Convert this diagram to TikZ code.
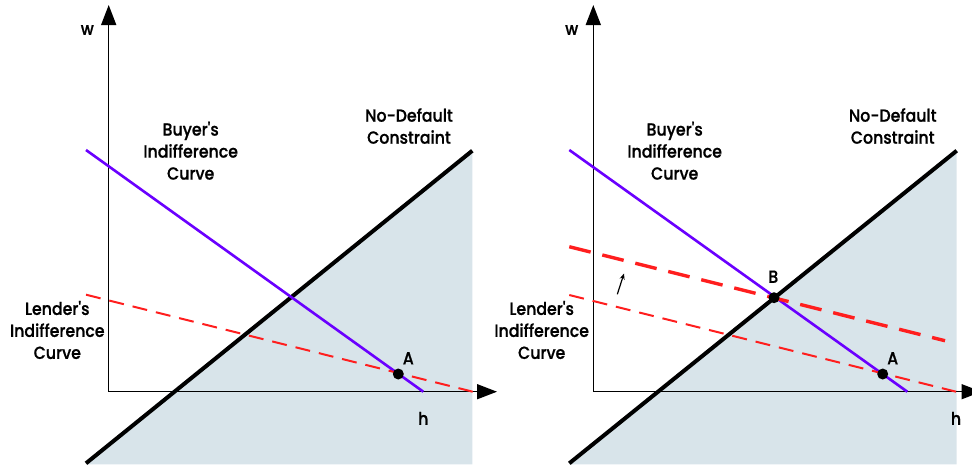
\documentclass[tikz,border=0pt]{standalone}
\usepackage{fontspec}
\newfontfamily\labelfont{Poppins}[UprightFont=* Medium, FakeStretch=0.9, UprightFeatures={FakeBold=0.8}]
\usetikzlibrary{arrows.meta}
\definecolor{shadeblue}{HTML}{D8E4EA}
\definecolor{buyerpurple}{HTML}{6A00FF}
\definecolor{lenderred}{HTML}{FF1E1E}
\tikzset{
  axis/.style={line width=1.5pt, -{Triangle[length=20pt,width=15pt]}},
  constraint/.style={line width=4pt, black},
  buyer/.style={line width=2.6pt, buyerpurple},
  lender/.style={line width=2pt, lenderred, dash pattern=on 15pt off 9pt},
  lenderthick/.style={line width=3.4pt, lenderred, dash pattern=on 22pt off 12pt},
  dot/.style={circle, fill=black, inner sep=0pt, minimum size=11pt},
  lbl/.style={font=\labelfont\fontsize{17.5}{22}\selectfont, align=center, inner sep=0pt},
  region/.style={fill=shadeblue}
}
\begin{document}
\begin{tikzpicture}[x=1pt,y=-1pt]
\useasboundingbox (0,0) rectangle (972,467);
\clip (0,0) rectangle (972,467);
% ---------- left panel ----------
\begin{scope}
  \coordinate (LO) at (108.7,391.7);
  \coordinate (LY) at (108.7,5);
  \coordinate (LX) at (497,391.7);
  \fill[region] (86,464.3) -- (472.3,150.7) -- (472.3,464.3) -- cycle;
  \draw[axis] (LO) -- (LY);
  \draw[axis] (LO) -- (LX);
  \coordinate (LC1) at (86,463.3);
  \coordinate (LC2) at (472.3,150.7);
  \draw[constraint] (LC1) -- (LC2);
  \coordinate (LB1) at (86,150);
  \coordinate (LB2) at (423.3,391.7);
  \draw[buyer] (LB1) -- (LB2);
  \coordinate (LL1) at (86,294.7);
  \coordinate (LL2) at (472.7,391.7);
  \draw[lender] (LL1) -- (LL2);
  \node[dot] (LA) at (398.3,374) {};
  \node[lbl] (LAl) at (408.3,358.3) {A};
  \node[lbl] (Lw) at (87.3,30) {w};
  \node[lbl] (Lh) at (423.3,418.3) {h};
  \node[lbl] (Lbuyer) at (190.7,150.7) {Buyer's\\Indifference\\Curve};
  \node[lbl] (Lnd) at (409,126) {No-Default\\Constraint};
  \node[lbl] (Llender) at (57.3,330) {Lender's\\Indifference\\Curve};
\end{scope}
% ---------- right panel ----------
\begin{scope}[xshift=484.5pt]
  \coordinate (RO) at (108.8,391.7);
  \coordinate (RY) at (108.8,5);
  \coordinate (RX) at (497,391.7);
  \fill[region] (84.8,464.3) -- (472.2,150.7) -- (472.2,464.3) -- cycle;
  \draw[axis] (RO) -- (RY);
  \draw[axis] (RO) -- (RX);
  \coordinate (RC1) at (84.8,463.3);
  \coordinate (RC2) at (472.2,150.7);
  \draw[constraint] (RC1) -- (RC2);
  \coordinate (RB1) at (84.8,150);
  \coordinate (RB2) at (422.8,391.7);
  \draw[buyer] (RB1) -- (RB2);
  \coordinate (RL1) at (84.8,295);
  \coordinate (RL2) at (471.5,391.7);
  \draw[lender] (RL1) -- (RL2);
  \coordinate (RT1) at (84.8,246.7);
  \coordinate (RT2) at (460.5,340.7);
  \draw[lenderthick] (RT1) -- (RT2);
  \coordinate (RS1) at (132.8,294.3);
  \coordinate (RS2) at (139.5,273.5);
  \draw[line width=1.2pt, -{Stealth[length=6pt,width=5pt]}] (RS1) -- (RS2);
  \node[dot] (RBp) at (289.5,297.7) {};
  \node[lbl] (RBl) at (288.8,276.7) {B};
  \node[dot] (RA) at (398.2,374) {};
  \node[lbl] (RAl) at (408.2,358.3) {A};
  \node[lbl] (Rw) at (87.2,30) {w};
  \node[lbl] (Rh) at (471.5,418.3) {h};
  \node[lbl] (Rbuyer) at (190.2,150.7) {Buyer's\\Indifference\\Curve};
  \node[lbl] (Rnd) at (408.2,126) {No-Default\\Constraint};
  \node[lbl] (Rlender) at (57.2,330) {Lender's\\Indifference\\Curve};
\end{scope}
\end{tikzpicture}
\end{document}
